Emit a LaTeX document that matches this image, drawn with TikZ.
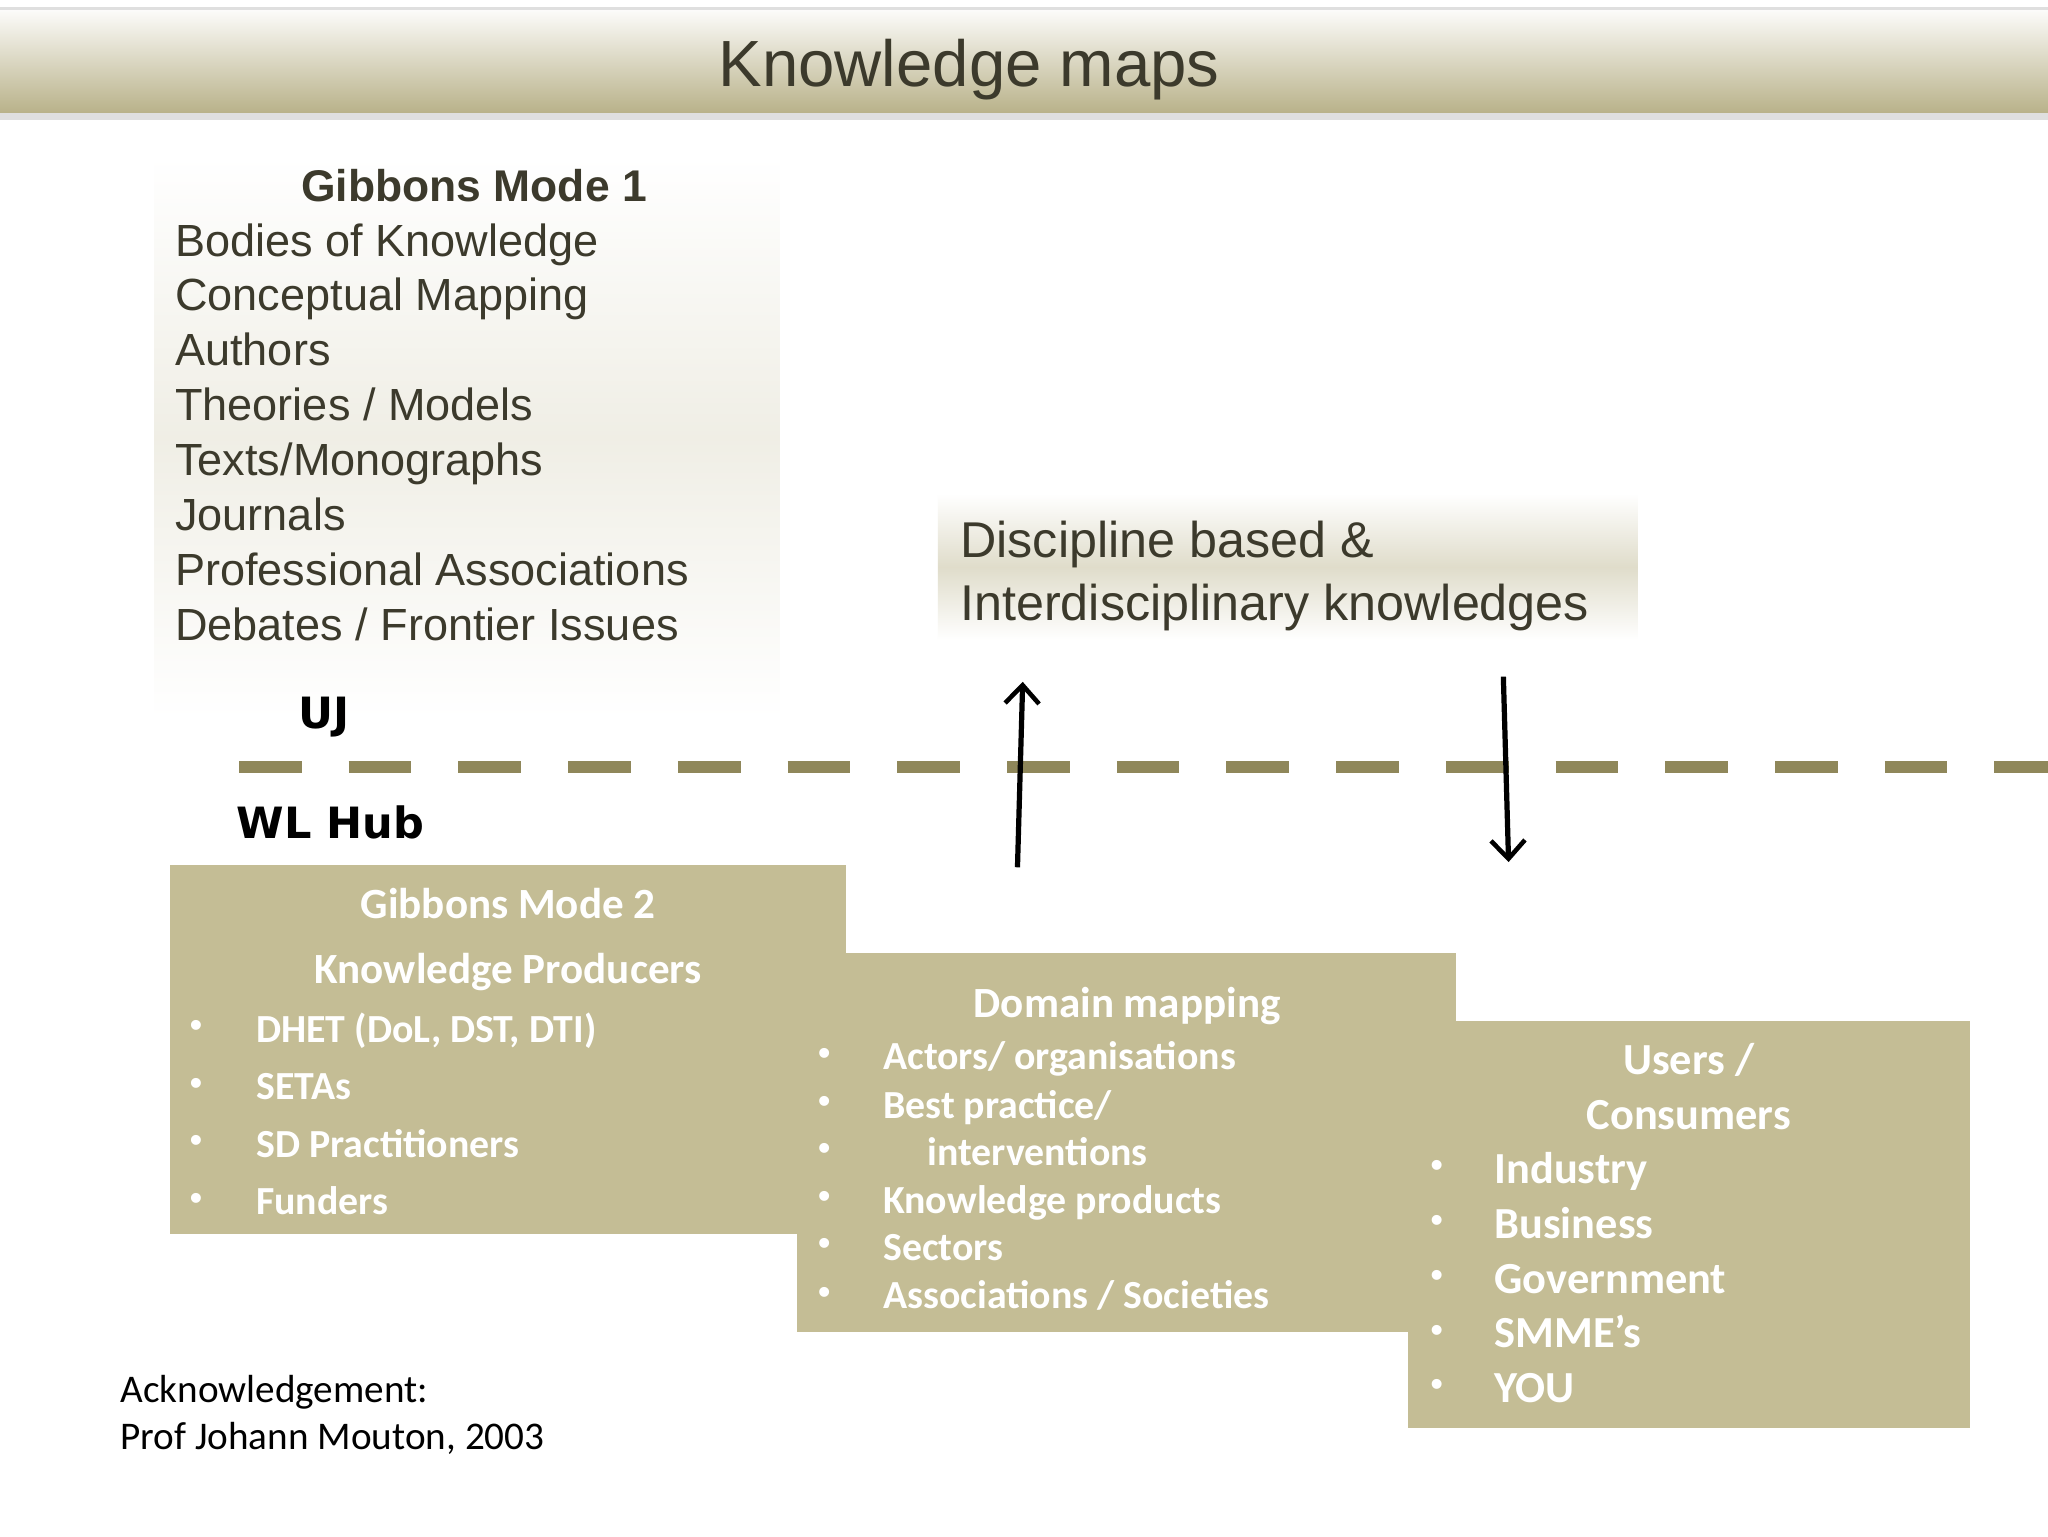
\documentclass[tikz,border=0pt]{standalone}
\usepackage{fontspec}
\setmainfont{Liberation Sans}
\newfontfamily\calfnt{Carlito}
\newfontfamily\heavyfnt{DejaVu Sans}
\usetikzlibrary{arrows.meta}
\definecolor{khaki}{HTML}{C4BD95}
\definecolor{band}{HTML}{B9B28A}
\definecolor{dashcol}{HTML}{8F875A}
\definecolor{dk}{HTML}{3C3A2C}
\tikzset{
 m1/.style={anchor=base west,font=\fontsize{34.5}{34.5}\selectfont,text=dk,inner sep=0},
 wt/.style={anchor=base west,font=\calfnt\bfseries\fontsize{30.5}{30.5}\selectfont,text=white,inner sep=0},
 wtc/.style={anchor=base,font=\calfnt\bfseries\fontsize{33}{33}\selectfont,text=white,inner sep=0},
 wu/.style={anchor=base west,font=\calfnt\bfseries\fontsize{34}{34}\selectfont,text=white,inner sep=0},
 bul/.style={font=\fontsize{28}{28}\selectfont,text=white,inner sep=0},
 lab/.style={anchor=base west,font=\heavyfnt\bfseries\fontsize{33}{33}\selectfont,inner sep=0},
 arr/.style={line width=4pt,-{Straight Barb[length=14pt,width=26pt,line width=3.5pt]}}
}
\begin{document}
\begin{tikzpicture}[x=1pt,y=-1pt]
\useasboundingbox (0,0) rectangle (1568,1176);
\fill[white] (0,0) rectangle (1568,1176);
% title band
\fill[gray!25] (0,5) rectangle (1568,92);
\shade[top color=white!95!band,bottom color=band] (0,8) rectangle (1568,86);
\node[font=\fontsize{50}{50}\selectfont,text=dk,anchor=base] (title) at (742,66) {Knowledge maps};
% mode 1
\shade[top color=white,bottom color=white,middle color=band!22] (118,120) rectangle (597,550);
\node[anchor=base,font=\fontsize{34}{34}\selectfont\bfseries,text=dk] (m1t) at (363,154) {Gibbons Mode 1};
\node[m1] (a1) at (134,196) {Bodies of Knowledge};
\node[m1] (a2) at (134,238) {Conceptual Mapping};
\node[m1] (a3) at (134,280) {Authors};
\node[m1] (a4) at (134,322) {Theories / Models};
\node[m1] (a5) at (134,364) {Texts/Monographs};
\node[m1] (a6) at (134,406) {Journals};
\node[m1] (a7) at (134,448) {Professional Associations};
\node[m1] (a8) at (134,490) {Debates / Frontier Issues};
% discipline
\shade[top color=white,bottom color=white,middle color=band!45] (718,378) rectangle (1254,490);
\node[m1,font=\fontsize{38.5}{38.5}\selectfont] (d1) at (735,427) {Discipline based \&};
\node[m1,font=\fontsize{38.5}{38.5}\selectfont] (d2) at (735,475) {Interdisciplinary knowledges};
% labels & line
\node[lab] (uj) at (228,558) {UJ};
\node[lab] (wl) at (181,642) {WL Hub};
\coordinate (ls) at (183,587); \coordinate (le) at (1568,587);
\draw[dashcol,line width=9pt,dash pattern=on 48pt off 36pt] (ls) -- (le);
\coordinate (u1) at (779,664); \coordinate (u2) at (783,522);
\coordinate (v1) at (1151,518); \coordinate (v2) at (1155,660);
\draw[arr] (u1) -- (u2);
\draw[arr] (v1) -- (v2);
% boxes
\fill[khaki] (130,662) rectangle (648,945);
\fill[khaki] (610,730) rectangle (1115,1020);
\fill[khaki] (1078,782) rectangle (1508,1093);
\node[wtc] (b1) at (389,703) {Gibbons Mode 2};
\node[wtc] (b2) at (389,753) {Knowledge Producers};
\foreach \y/\t in {788/{DHET (DoL, DST, DTI)},832/{SETAs},876/{SD Practitioners},920/{Funders}}{
 \node[bul] at (150,\y) {•}; \node[wt] at (196,\y+10) {\t};}
\node[wtc] (c1) at (863,779) {Domain mapping};
\foreach \y/\t in {809/{Actors/ organisations},846/{Best practice/},919/{Knowledge products},955/{Sectors},992/{Associations / Societies}}{
 \node[wt] at (676,\y+10) {\t};}
\foreach \y in {809,846,882,919,955,992}{\node[bul] at (631,\y) {•};}
\node[wt] (c3) at (710,892) {interventions};
\node[wtc,font=\calfnt\bfseries\fontsize{34}{34}\selectfont] (e1) at (1293,823) {Users /};
\node[wtc,font=\calfnt\bfseries\fontsize{34}{34}\selectfont] (e2) at (1293,865) {Consumers};
\foreach \y/\t in {895/{Industry},937/{Business},979/{Government},1021/{SMME’s},1063/{YOU}}{
 \node[bul] at (1100,\y) {•}; \node[wu] at (1144,\y+11) {\t};}
\node[anchor=base west,font=\calfnt\fontsize{30}{30}\selectfont,inner sep=0] (k1) at (92,1074) {Acknowledgement:};
\node[anchor=base west,font=\calfnt\fontsize{30}{30}\selectfont,inner sep=0] (k2) at (92,1110) {Prof Johann Mouton, 2003};
\end{tikzpicture}
\end{document}
